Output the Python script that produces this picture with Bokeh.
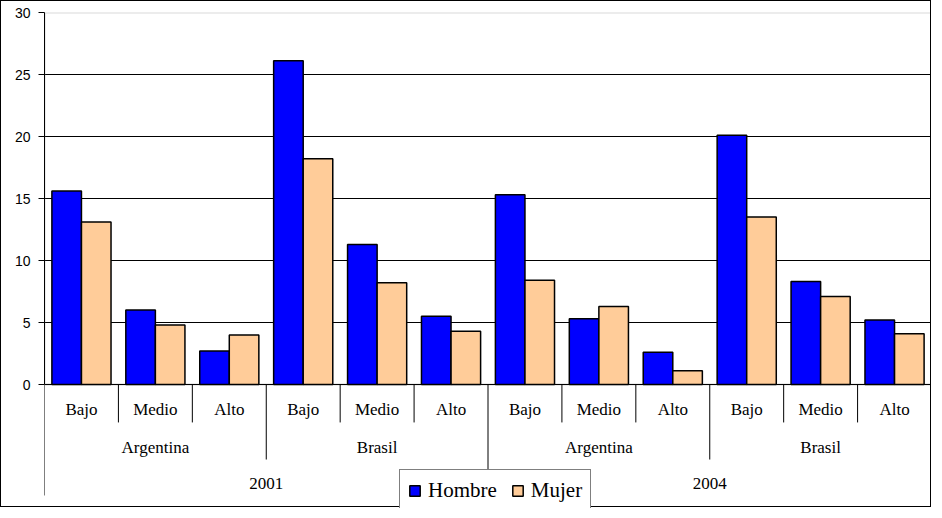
from bokeh.plotting import figure
from bokeh.models import FactorRange, Range1d, ColumnDataSource, FixedTicker, BoxAnnotation, Span
from bokeh.transform import dodge
from bokeh.core.properties import value
from bokeh.embed import file_html
from bokeh.resources import INLINE

# ---- data ----
years = ["2001", "2004"]
countries = ["Argentina", "Brasil"]
levels = ["Bajo", "Medio", "Alto"]
hombre = [15.6, 6.0, 2.7, 26.1, 11.3, 5.5, 15.3, 5.3, 2.6, 20.1, 8.3, 5.2]
mujer = [13.1, 4.8, 4.0, 18.2, 8.2, 4.3, 8.4, 6.3, 1.1, 13.5, 7.1, 4.1]
y_ticks = [0, 5, 10, 15, 20, 25, 30]

factors = [(y, c, l) for y in years for c in countries for l in levels]

xr = FactorRange(factors=factors, factor_padding=0, subgroup_padding=0,
                 group_padding=0, range_padding=0)

p = figure(width=931, height=507, x_range=xr, y_range=Range1d(-10.0, 30),
           output_backend="svg", toolbar_location=None, x_axis_location=None,
           min_border_left=43, min_border_right=1, min_border_top=11, min_border_bottom=0)
p.styles = {"border": "1px solid black"}
p.outline_line_color = None
p.background_fill_color = "white"
p.border_fill_color = "white"
p.xgrid.visible = False

p.ygrid.ticker = FixedTicker(ticks=y_ticks[1:-1])
p.ygrid.grid_line_color = "black"
p.ygrid.grid_line_width = 1

ax = p.yaxis[0]
ax.ticker = FixedTicker(ticks=y_ticks)
ax.bounds = (0, 30)
ax.major_tick_out = 6
ax.major_tick_in = 0
ax.minor_tick_out = 0
ax.minor_tick_in = 0
ax.axis_line_color = "black"
ax.major_tick_line_color = "black"
ax.major_label_standoff = 8
ax.major_label_text_font = "Liberation Sans"
ax.major_label_text_font_size = "14px"
ax.major_label_text_color = "black"

# plot-area border (gray)
p.add_layout(BoxAnnotation(bottom=0, top=30, fill_color=None, line_color="#808080",
                           line_width=2, level="underlay"))
p.add_layout(Span(location=0, dimension="width", line_color="black", line_width=1,
                  level="underlay"))

src = ColumnDataSource(dict(x=factors, hombre=hombre, mujer=mujer))
p.vbar(x=dodge("x", -0.2, range=p.x_range), top="hombre", width=0.4, source=src,
       fill_color="#0000FF", line_color="black", line_width=1.5, legend_label="Hombre")
p.vbar(x=dodge("x", 0.2, range=p.x_range), top="mujer", width=0.4, source=src,
       fill_color="#FFCC99", line_color="black", line_width=1.5, legend_label="Mujer")

# separators of the multi-level category axis
depth_level, depth_country, depth_year = -3.06, -6.05, -8.95
sep_x, sep_y = [], []
for f in factors:
    yi, ci, li = f
    if li == levels[0] and ci == countries[0]:
        d = depth_year
    elif li == levels[0]:
        d = depth_country
    else:
        d = depth_level
    sep_x.append(f)
    sep_y.append(d)
sep_src = ColumnDataSource(dict(x=sep_x, y0=[0] * len(sep_x), y1=sep_y))
p.segment(x0=dodge("x", -0.5, range=p.x_range), x1=dodge("x", -0.5, range=p.x_range),
          y0="y0", y1="y1", source=sep_src, line_color="black", line_width=1)
end_src = ColumnDataSource(dict(x=[factors[-1]], y0=[0], y1=[depth_year]))
p.segment(x0=dodge("x", 0.5, range=p.x_range), x1=dodge("x", 0.5, range=p.x_range),
          y0="y0", y1="y1", source=end_src, line_color="black", line_width=1)

# category labels
lab_font = value("Liberation Serif")
lvl_src = ColumnDataSource(dict(x=factors, y=[-2.0] * len(factors), t=[f[2] for f in factors]))
p.text(x="x", y="y", text="t", source=lvl_src, text_font=lab_font, text_font_size="17px",
       text_align="center", text_baseline="middle", text_color="black")
cf = [(y, c) for y in years for c in countries]
cty_src = ColumnDataSource(dict(x=cf, y=[-5.08] * len(cf), t=[c for _, c in cf]))
p.text(x="x", y="y", text="t", source=cty_src, text_font=lab_font, text_font_size="17px",
       text_align="center", text_baseline="middle", text_color="black")
yr_src = ColumnDataSource(dict(x=years, y=[-8.0] * len(years), t=years))
p.text(x="x", y="y", text="t", source=yr_src, text_font=lab_font, text_font_size="17px",
       text_align="center", text_baseline="middle", text_color="black")

lg = p.legend[0]
lg.orientation = "horizontal"
lg.location = (355, -4)
lg.label_text_font = "Liberation Serif"
lg.label_text_font_size = "21px"
lg.label_text_color = "black"
lg.glyph_width = 13
lg.glyph_height = 13
lg.label_standoff = 7
lg.spacing = 14
lg.padding = 8
lg.margin = 0
lg.border_line_color = "black"
lg.border_line_width = 1
lg.background_fill_color = "white"
lg.background_fill_alpha = 1.0

open("out.html", "w").write(file_html(p, INLINE))
